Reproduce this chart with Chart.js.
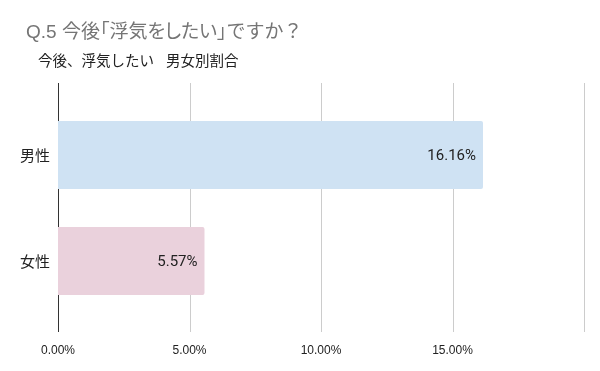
<!DOCTYPE html>
<html><head><meta charset="utf-8">
<script src="https://cdn.jsdelivr.net/npm/chart.js@4"></script>
<style>
html,body{margin:0;padding:0;background:#fff;}
#wrap{position:relative;width:600px;height:371px;}
.t{position:absolute;white-space:nowrap;}
#t1{left:26px;top:16px;font-family:"Liberation Sans","Noto Sans CJK JP",sans-serif;font-size:19px;color:#757575;}
#t1 .p{font-feature-settings:"palt";}
#t2a{left:38px;top:49px;font-family:"Noto Sans CJK JP",sans-serif;font-size:14.5px;color:#222;}
#t2b{left:166px;top:49px;font-family:"Noto Sans CJK JP",sans-serif;font-size:14.5px;color:#222;}
canvas{position:absolute;left:0;top:0;}
</style></head>
<body><div id="wrap">
<canvas id="c" width="600" height="371"></canvas>
<div class="t" id="t1"><span class="p">Q.5 今後「浮気をしたい」</span>ですか？</div>
<div class="t" id="t2a">今後、浮気したい</div>
<div class="t" id="t2b">男女別割合</div>
</div>
<script>
const categories = ["男性", "女性"];
const values = [16.16, 5.57];
const valueLabels = ["16.16%", "5.57%"];
const barColors = ["#cfe2f3", "#ead1dc"];
const tickLabels = {0: "0.00%", 5: "5.00%", 10: "10.00%", 15: "15.00%", 20: ""};

const gridPlugin = {
  id: 'grid',
  beforeDatasetsDraw(chart) {
    const ctx = chart.ctx, xs = chart.scales.x;
    ctx.save();
    xs.ticks.forEach(t => {
      const x = Math.round(xs.getPixelForValue(t.value)) + 0.5;
      ctx.strokeStyle = t.value === 0 ? '#333' : '#cccccc';
      ctx.lineWidth = 1;
      ctx.beginPath(); ctx.moveTo(x, 83); ctx.lineTo(x, 332); ctx.stroke();
    });
    ctx.restore();
  },
  afterDatasetsDraw(chart) {
    const ctx = chart.ctx;
    const meta = chart.getDatasetMeta(0);
    ctx.save();
    ctx.font = '15px Roboto, sans-serif';
    ctx.fillStyle = '#222';
    ctx.textAlign = 'right';
    ctx.textBaseline = 'middle';
    meta.data.forEach((bar, i) => {
      ctx.fillText(valueLabels[i], bar.x - 7, bar.y + 1);
    });
    ctx.restore();
  }
};

new Chart(document.getElementById('c'), {
  type: 'bar',
  data: {
    labels: categories,
    datasets: [{
      data: values,
      backgroundColor: barColors,
      borderRadius: 2,
      borderSkipped: 'start',
      categoryPercentage: 1,
      barPercentage: 0.64
    }]
  },
  options: {
    indexAxis: 'y',
    responsive: false,
    animation: false,
    layout: {padding: {left: 0, top: 102, right: 16, bottom: 0}},
    plugins: {legend: {display: false}, tooltip: {enabled: false}},
    scales: {
      x: {
        min: 0, max: 20,
        ticks: {stepSize: 5, padding: 29, color: '#222', font: {family: '"Liberation Sans"', size: 12},
          callback: v => tickLabels[v] !== undefined ? tickLabels[v] : ''},
        grid: {display: false, drawTicks: false},
        border: {display: false},
        afterFit: s => { s.height = 57; s.paddingRight = 0; s.paddingLeft = 0; }
      },
      y: {
        ticks: {padding: 8, color: '#222', font: {family: '"Noto Sans CJK JP"', size: 15}},
        grid: {display: false, drawTicks: false},
        border: {display: false},
        afterFit: s => { s.width = 58; }
      }
    }
  },
  plugins: [gridPlugin]
});
</script>
</body></html>
